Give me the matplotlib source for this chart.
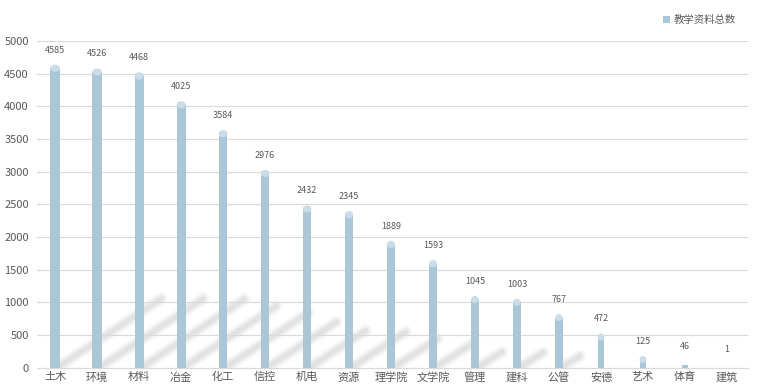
import matplotlib
matplotlib.use("Agg")
import matplotlib.pyplot as plt
from matplotlib.patches import Ellipse, Polygon

plt.rcParams['font.family'] = ['Noto Sans CJK SC', 'DejaVu Sans']

categories = ["土木", "环境", "材料", "冶金", "化工", "信控", "机电", "资源", "理学院", "文学院",
              "管理", "建科", "公管", "安德", "艺术", "体育", "建筑"]
values = [4585, 4526, 4468, 4025, 3584, 2976, 2432, 2345, 1889, 1593,
          1045, 1003, 767, 472, 125, 46, 1]
series_name = "教学资料总数"
yticks = [0, 500, 1000, 1500, 2000, 2500, 3000, 3500, 4000, 4500, 5000]

fig = plt.figure(figsize=(7.57, 3.88), dpi=100)
ax = fig.add_axes([0.049, 0.052, 0.939, 0.842])

bar_color = "#aac7d7"
cap_color = "#c9dce7"
x = list(range(len(categories)))
widths = [0.23 - 0.005 * i for i in x]

# decorative soft diagonal shadows behind bars
for i, v in zip(x, values):
    if i > 12:
        continue
    h = min(v * 0.235, 1060)
    dx = 2.45 * h / 1060
    x0, x1 = i + 0.08, i + 0.08 + dx
    for lw, a in [(9, 0.10), (6, 0.14), (3.5, 0.18)]:
        ax.plot([x0, x1], [15, h], color="#b5b5b5", lw=lw, alpha=a,
                solid_capstyle="round", zorder=1)

bars = ax.bar(x, values, width=widths, color=bar_color, zorder=3, label=series_name)
for i, v, w in zip(x, values, widths):
    if v > 100:
        ax.add_patch(Ellipse((i, v), w, 110, facecolor=cap_color, edgecolor="none", zorder=4))
    ax.text(i, v + 210, str(v), ha="center", va="bottom", fontsize=6.5, color="#595959", zorder=5)

ax.set_xlim(-0.43, 16.5)
ax.set_ylim(0, 5000)
ax.set_yticks(yticks)
ax.set_xticks(x)
ax.set_xticklabels(categories, fontsize=8, color="#595959")
ax.tick_params(axis="y", labelsize=8, colors="#595959", length=0, pad=6)
ax.tick_params(axis="x", length=0, pad=3)
ax.grid(axis="y", color="#d9d9d9", lw=0.8, zorder=0)
for s in ["top", "right", "left"]:
    ax.spines[s].set_visible(False)
ax.spines["bottom"].set_color("#d9d9d9")

leg = fig.legend(handles=[bars], labels=[series_name], loc="upper right", bbox_to_anchor=(0.985, 0.985),
                 frameon=False, fontsize=7.5, handlelength=0.7, handleheight=0.7, handletextpad=0.4,
                 labelcolor="#595959")

fig.savefig("out.png", dpi=100)
